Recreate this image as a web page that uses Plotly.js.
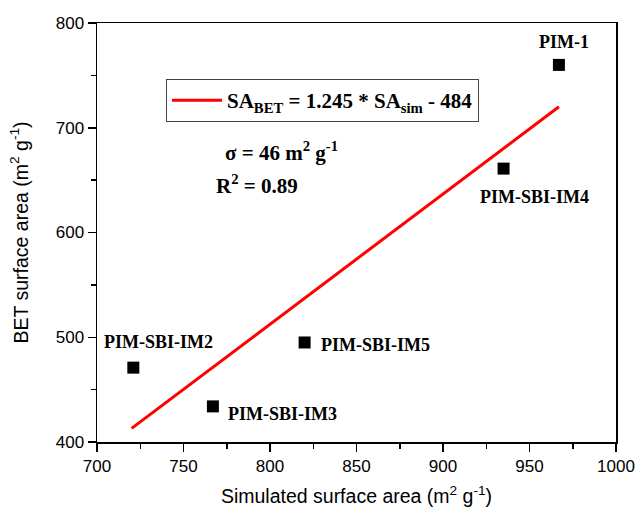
<!DOCTYPE html>
<html>
<head>
<meta charset="utf-8">
<script src="https://cdn.plot.ly/plotly-3.0.1.min.js"></script>
<style>html,body{margin:0;padding:0;background:#fff;}#chart{width:638px;height:509px;}</style>
</head>
<body>
<div id="chart"></div>
<script>
// Data
const sampleNames = ["PIM-1", "PIM-SBI-IM4", "PIM-SBI-IM2", "PIM-SBI-IM3", "PIM-SBI-IM5"];
const simulatedSA = [967, 935, 721, 767, 820];
const betSA = [760, 661, 471, 434, 495];
// Fit line end points (SA_BET = 1.245 * SA_sim - 484)
const fitX = [720, 967];
const fitY = [413, 720];
const xTicks = [700, 750, 800, 850, 900, 950, 1000];
const yTicks = [400, 500, 600, 700, 800];

// label offsets (pixels) relative to each point
const labelShift = {
  "PIM-1": [5, 23],
  "PIM-SBI-IM4": [31, -28],
  "PIM-SBI-IM2": [25, 26],
  "PIM-SBI-IM3": [70, -8],
  "PIM-SBI-IM5": [71, -3]
};

const serif = "Liberation Serif, Times New Roman, serif";
const sans = "Liberation Sans, Arial, sans-serif";

const traces = [
  {
    x: fitX, y: fitY, mode: "lines", type: "scatter",
    line: {color: "#ff0000", width: 3},
    name: "SA<sub>BET</sub> = 1.245 * SA<sub>sim</sub> - 484",
    showlegend: true
  },
  {
    x: simulatedSA, y: betSA, mode: "markers", type: "scatter",
    marker: {symbol: "square", size: 12, color: "#000"},
    showlegend: false, name: "data"
  }
];

const annotations = sampleNames.map((n, i) => ({
  x: simulatedSA[i], y: betSA[i], xref: "x", yref: "y",
  xanchor: "center", yanchor: "middle",
  text: "<b>" + n + "</b>", showarrow: false,
  xshift: labelShift[n][0], yshift: labelShift[n][1],
  font: {family: serif, size: 18, color: "#000"}
}));
annotations.push({
  xref: "paper", yref: "paper", x: (281 - 97) / 519, y: (442 - 152) / 419,
  xanchor: "center", yanchor: "middle",
  text: "<b>σ = 46 m<sup>2</sup> g<sup>-1</sup></b>", showarrow: false,
  font: {family: serif, size: 21, color: "#000"}
});
annotations.push({
  xref: "paper", yref: "paper", x: (257 - 97) / 519, y: (442 - 184) / 419,
  xanchor: "center", yanchor: "middle",
  text: "<b>R<sup>2</sup> = 0.89</b>", showarrow: false,
  font: {family: serif, size: 21, color: "#000"}
});

const axisCommon = {
  showgrid: false, zeroline: false,
  showline: true, linecolor: "#000", linewidth: 1.5, mirror: true,
  ticks: "outside", ticklen: 8, tickwidth: 1.5, tickcolor: "#000",
  tickfont: {family: sans, size: 17, color: "#000"}
};

const layout = {
  width: 638, height: 509,
  margin: {l: 97, r: 22, t: 23, b: 67},
  paper_bgcolor: "#fff", plot_bgcolor: "#fff",
  xaxis: Object.assign({}, axisCommon, {
    range: [700, 1000], tickvals: xTicks, ticktext: xTicks.map(String),
    minor: {dtick: 25, tick0: 700, ticks: "outside", ticklen: 5, tickwidth: 1.5, tickcolor: "#000"},
    title: {text: "Simulated surface area (m<sup>2</sup> g<sup>-1</sup>)", font: {family: sans, size: 19.5, color: "#000"}, standoff: 14}
  }),
  yaxis: Object.assign({}, axisCommon, {
    range: [400, 800], tickvals: yTicks, ticktext: yTicks.map(String),
    minor: {dtick: 50, tick0: 400, ticks: "outside", ticklen: 5, tickwidth: 1.5, tickcolor: "#000"},
    title: {text: "BET surface area (m<sup>2</sup> g<sup>-1</sup>)", font: {family: sans, size: 19.5, color: "#000"}, standoff: 22}
  }),
  legend: {
    x: (166 - 97) / 519, y: (442 - 79) / 419, xanchor: "left", yanchor: "top",
    bordercolor: "#444", borderwidth: 1, bgcolor: "rgba(255,255,255,0)",
    font: {family: serif, size: 21, color: "#000", weight: "bold"},
    itemwidth: 50
  },
  annotations: annotations,
  showlegend: true
};

Plotly.newPlot("chart", traces, layout, {displayModeBar: false, staticPlot: true});
</script>
</body>
</html>
